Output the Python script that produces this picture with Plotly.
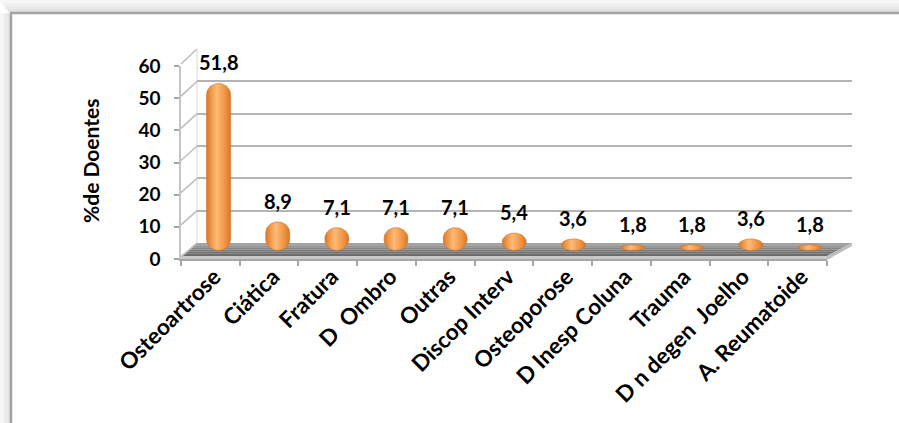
import numpy as np
import plotly.graph_objects as go

# ---- data -------------------------------------------------------------
categories = [
    "Osteoartrose", "Ciática", "Fratura", "D\u00a0 Ombro", "Outras",
    "Discop Interv", "Osteoporose", "D Inesp Coluna", "Trauma",
    "D n degen\u00a0 Joelho", "A. Reumatoide",
]
percent_doentes = [51.8, 8.9, 7.1, 7.1, 7.1, 5.4, 3.6, 1.8, 1.8, 3.6, 1.8]
y_ticks = [0, 10, 20, 30, 40, 50, 60]
y_title = "%de Doentes"

# ---- page geometry (pixels) -------------------------------------------
W, H = 899, 423
FONT = "Lato"


def xdom(px_left, px_right):
    return [px_left / W, px_right / W]


def ydom(py0, scale, r0, r1):
    """Domain so that value v lands at pixel row py0 - v*scale."""
    py_bottom = py0 - r0 * scale
    py_top = py0 - r1 * scale
    return [(H - py_bottom) / H, (H - py_top) / H]


def px(x):
    return x / W


def py(y):
    return 1 - y / H


n = len(categories)
idx = np.arange(n)

# three depth planes of the pseudo-3D box: back wall, bar plane, front edge
BACK = dict(left=197, right=852, zero=243, scale=(243 - 49) / 60)
MID = dict(left=189, right=839.5, zero=250.5, scale=(250.5 - 57) / 60)
FRONT = dict(left=181, right=827, zero=259, scale=(259 - 66) / 60)

fig = go.Figure(layout=dict(template="none"))

# back wall subplot (gridlines only)
fig.add_trace(go.Scatter(x=[0], y=[0], mode="markers", marker=dict(opacity=0),
                         hoverinfo="skip", showlegend=False, xaxis="x", yaxis="y"))

# ---- cylinders --------------------------------------------------------
unit_x = (MID["right"] - MID["left"]) / n          # px per category
unit_y = MID["scale"]                              # px per percent
half_w = 12.0 / unit_x
body_scale = [[0.0, "#D8772A"], [0.18, "#EE9645"], [0.42, "#FDBA78"],
              [0.6, "#F8A65A"], [0.85, "#E88B3B"], [1.0, "#D6752A"]]

for i, v in zip(idx, percent_doentes):
    h_px = v * unit_y
    ry = min(11.0, h_px / 2) / unit_y
    t_top = np.linspace(0, np.pi, 40)
    t_bot = np.linspace(np.pi, 2 * np.pi, 40)
    xs = np.concatenate([i + half_w * np.cos(t_top), i + half_w * np.cos(t_bot)])
    ys = np.concatenate([v - ry + ry * np.sin(t_top), ry + ry * np.sin(t_bot)])
    fig.add_trace(go.Scatter(
        x=np.append(xs, xs[0]), y=np.append(ys, ys[0]),
        mode="lines", fill="toself",
        fillgradient=dict(type="horizontal", colorscale=body_scale),
        line=dict(color="#CF6F25", width=0.6),
        hoverinfo="skip", showlegend=False, xaxis="x2", yaxis="y2",
    ))

# front axis carrier (category labels and value ticks)
fig.add_trace(go.Scatter(x=categories, y=[0] * n, mode="markers",
                         marker=dict(opacity=0), hoverinfo="skip",
                         showlegend=False, xaxis="x3", yaxis="y3"))

# ---- value labels -----------------------------------------------------
annotations = []
for i, v in zip(idx, percent_doentes):
    annotations.append(dict(
        x=i, y=v, xref="x2", yref="y2", yshift=21, showarrow=False,
        text=f"{v:.1f}".replace(".", ","), yanchor="middle",
        font=dict(family=FONT, size=20, color="black", weight="bold"),
    ))
annotations.append(dict(
    x=px(90), y=py(161), xref="paper", yref="paper", showarrow=False,
    xanchor="center", yanchor="middle",
    text=y_title, textangle=-90,
    font=dict(family=FONT, size=21, color="black", weight="bold"),
))

# ---- decoration: frame, floor, side wall ---------------------------------
shapes = []
# outer shadow and chart frame
for k, col in enumerate(["#f7f7f7", "#f1f1f1", "#eaeaea", "#e2e2e2"]):
    shapes.append(dict(type="rect", xref="paper", yref="paper", layer="below",
                       x0=px(k * 2.5), x1=px(k * 2.5 + 2.5), y0=0, y1=py(13),
                       line=dict(width=0), fillcolor=col))
    shapes.append(dict(type="rect", xref="paper", yref="paper", layer="below",
                       x0=px(k * 2.5), x1=1, y0=py(k * 3), y1=py(k * 3 + 3),
                       line=dict(width=0), fillcolor=col))
shapes.append(dict(type="line", xref="paper", yref="paper",
                   x0=px(11), x1=px(11), y0=0, y1=py(13),
                   line=dict(color="#a3a3a3", width=2.5)))
shapes.append(dict(type="line", xref="paper", yref="paper",
                   x0=px(10), x1=1, y0=py(13), y1=py(13),
                   line=dict(color="#a3a3a3", width=2.5)))


def poly(points, fill, line_col=None, width=0):
    path = "M " + " L ".join(f"{px(a):.5f},{py(b):.5f}" for a, b in points) + " Z"
    return dict(type="path", xref="paper", yref="paper", layer="below", path=path,
                fillcolor=fill, line=dict(color=line_col or fill, width=width))


# floor top face with a stepped back-to-front shade
fl_back, fl_front = BACK["zero"], 256.0
bands = ["#a2a2a2", "#939393", "#858585", "#7a7a7a", "#727272", "#6c6c6c"]
nb = len(bands)
for k, col in enumerate(bands):
    f0, f1 = k / nb, (k + 1) / nb
    yb0 = fl_back + (fl_front - fl_back) * f0
    yb1 = fl_back + (fl_front - fl_back) * f1
    xl0 = BACK["left"] + (FRONT["left"] - BACK["left"]) * f0
    xl1 = BACK["left"] + (FRONT["left"] - BACK["left"]) * f1
    xr0 = BACK["right"] + (FRONT["right"] - BACK["right"]) * f0
    xr1 = BACK["right"] + (FRONT["right"] - BACK["right"]) * f1
    shapes.append(poly([(xl0, yb0), (xr0, yb0), (xr1, yb1), (xl1, yb1)], col))
# floor front and right faces
shapes.append(poly([(FRONT["left"], fl_front), (FRONT["right"], fl_front),
                    (FRONT["right"], 260), (FRONT["left"], 260)], "#c9c9c9"))
shapes.append(poly([(FRONT["right"], fl_front), (BACK["right"], fl_back),
                    (BACK["right"], fl_back + 3), (FRONT["right"], 260)], "#bdbdbd"))

# left side wall: edges joining front ticks to back gridlines
for t in y_ticks:
    shapes.append(dict(type="line", xref="paper", yref="paper", layer="below",
                       x0=px(FRONT["left"]), y0=py(FRONT["zero"] - t * FRONT["scale"] - 2),
                       x1=px(BACK["left"]), y1=py(BACK["zero"] - t * BACK["scale"]),
                       line=dict(color="#bdbdbd", width=1.5)))
shapes.append(dict(type="line", xref="paper", yref="paper", layer="below",
                   x0=px(BACK["left"]), x1=px(BACK["left"]),
                   y0=py(BACK["zero"]), y1=py(BACK["zero"] - 60 * BACK["scale"]),
                   line=dict(color="#d6d6d6", width=1)))

hidden = dict(visible=False, showgrid=False, zeroline=False, fixedrange=True,
              automargin=False)

fig.update_layout(
    width=W, height=H,
    margin=dict(l=0, r=0, t=0, b=0, pad=0, autoexpand=False),
    paper_bgcolor="white", plot_bgcolor="rgba(0,0,0,0)",
    font=dict(family=FONT, color="black"),
    showlegend=False,
    # back wall
    xaxis=dict(domain=xdom(BACK["left"], BACK["right"]), range=[-0.5, n - 0.5],
               anchor="y", **hidden),
    yaxis=dict(domain=ydom(BACK["zero"], BACK["scale"], 0, 60), range=[0, 60],
               anchor="x", showgrid=True, gridcolor="#b4b4b4", gridwidth=2,
               tickvals=y_ticks, showticklabels=False, zeroline=False,
               showline=False, ticks="", automargin=False),
    # bar plane
    xaxis2=dict(domain=xdom(MID["left"], MID["right"]), range=[-0.5, n - 0.5],
                anchor="y2", **hidden),
    yaxis2=dict(domain=ydom(MID["zero"], MID["scale"], -1, 61), range=[-1, 61],
                anchor="x2", **hidden),
    # front edge with ticks and labels
    xaxis3=dict(domain=xdom(FRONT["left"], FRONT["right"]), type="category",
                categoryarray=categories, categoryorder="array",
                range=[-0.5, n - 0.5], anchor="y3", tickson="boundaries",
                ticks="outside", ticklen=5, tickcolor="#a6a6a6", tickwidth=1.5,
                showline=True, linecolor="#a6a6a6", linewidth=1.5,
                tickangle=-45, showgrid=False, zeroline=False, automargin=False,
                ticklabelstandoff=-6, ticklabelshift=4,
                tickfont=dict(family=FONT, size=22.5, color="black", weight="bold")),
    yaxis3=dict(domain=ydom(FRONT["zero"], FRONT["scale"], 0, 60), range=[0, 60],
                anchor="x3", tickvals=y_ticks, ticks="outside", ticklen=5,
                tickcolor="#a6a6a6", tickwidth=1.5, showline=True,
                linecolor="#c4c4c4", linewidth=1.5, showgrid=False,
                zeroline=False, ticklabelstandoff=10, automargin=False,
                tickfont=dict(family=FONT, size=19, color="black", weight="bold")),
    shapes=shapes,
    annotations=annotations,
)

fig.write_html("out.html")
